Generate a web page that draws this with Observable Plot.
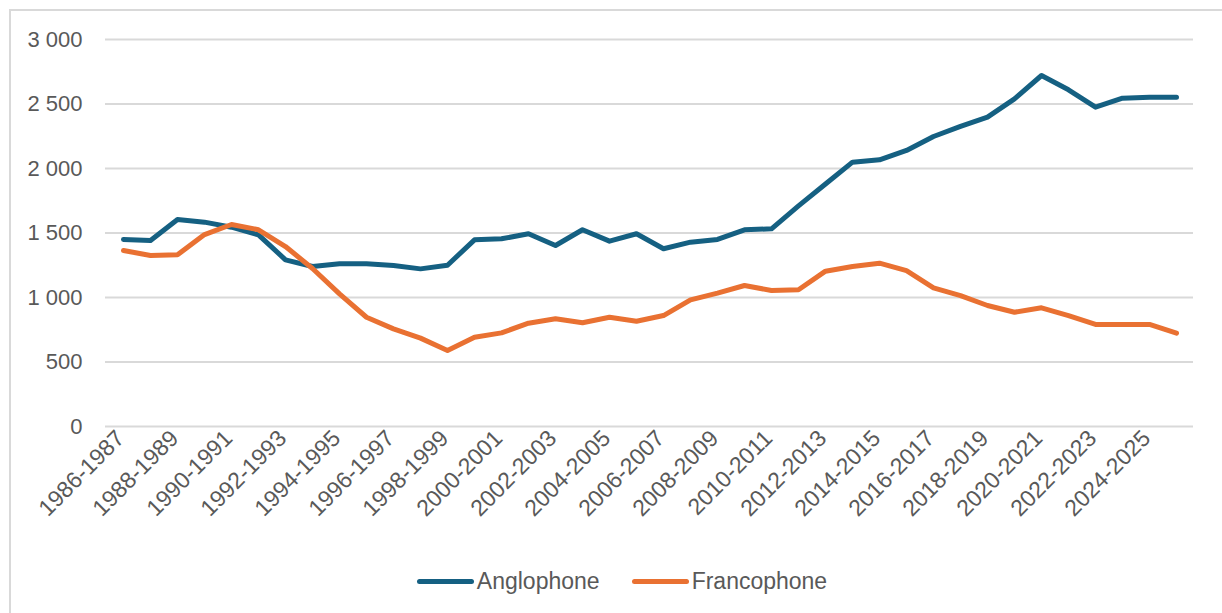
<!DOCTYPE html>
<html>
<head>
<meta charset="utf-8">
<script src="https://cdn.jsdelivr.net/npm/d3@7"></script>
<script src="https://cdn.jsdelivr.net/npm/@observablehq/plot@0.6"></script>
<style>
  html, body { margin: 0; padding: 0; background: #fff; overflow: hidden; }
  body { width: 1222px; height: 613px; position: relative; font-family: "Liberation Sans", Arial, sans-serif; }
  #frame { position: absolute; left: 9px; top: 9px; width: 1400px; height: 800px;
           border-top: 2px solid #d9d9d9; border-left: 2px solid #d9d9d9; box-sizing: border-box; }
  #chart { position: absolute; left: 0; top: 0; }
  #legend { position: absolute; left: 0; top: 568px; width: 1244px; display: flex; justify-content: center;
            align-items: center; font-size: 23px; color: #595959; }
  .item { display: flex; align-items: center; margin: 0 16px; }
  .sw { width: 57px; height: 5px; border-radius: 3px; margin-right: 3px; }
</style>
</head>
<body>
<div id="frame"></div>
<div id="chart"></div>
<div id="legend"></div>
<script>
const categories = [
  "1986-1987","1987-1988","1988-1989","1989-1990","1990-1991","1991-1992","1992-1993","1993-1994",
  "1994-1995","1995-1996","1996-1997","1997-1998","1998-1999","1999-2000","2000-2001","2001-2002",
  "2002-2003","2003-2004","2004-2005","2005-2006","2006-2007","2007-2008","2008-2009","2009-2010",
  "2010-2011","2011-2012","2012-2013","2013-2014","2014-2015","2015-2016","2016-2017","2017-2018",
  "2018-2019","2019-2020","2020-2021","2021-2022","2022-2023","2023-2024","2024-2025","2025-2026"
];
const anglophone = [
  1450,1442,1605,1584,1545,1486,1292,1240,1261,1261,1248,1222,1250,1447,1455,1494,
  1403,1525,1437,1494,1378,1429,1450,1525,1532,1710,1880,2049,2067,2140,2248,2326,
  2398,2540,2721,2610,2475,2545,2553,2553
];
const francophone = [
  1364,1326,1331,1488,1566,1525,1395,1225,1028,847,757,685,589,692,726,801,
  835,804,847,816,860,982,1034,1093,1054,1060,1204,1240,1266,1209,1075,1015,
  938,886,920,860,791,791,791,723
];
const seriesNames = ["Anglophone", "Francophone"];
const seriesColors = ["#156082", "#E97132"];
const yTicks = [0, 500, 1000, 1500, 2000, 2500, 3000];
const xTickLabels = categories.filter((d, i) => i % 2 === 0);

const rows = [
  ...categories.map((c, i) => ({year: c, value: anglophone[i], series: seriesNames[0]})),
  ...categories.map((c, i) => ({year: c, value: francophone[i], series: seriesNames[1]}))
];

const fmt = v => d3.format(",")(v).replace(/,/g, " ");

const chart = Plot.plot({
  width: 1222,
  height: 525,
  marginTop: 39,
  marginBottom: 99,
  marginLeft: 105,
  marginRight: 29,
  style: {fontFamily: "'Liberation Sans', Arial, sans-serif", fontSize: "22px", color: "#595959", background: "transparent"},
  x: {type: "point", domain: categories, padding: 0.5, align: 0.5},
  y: {domain: [0, 3000]},
  color: {domain: seriesNames, range: seriesColors},
  marks: [
    Plot.ruleY(yTicks, {stroke: "#d9d9d9", strokeWidth: 2}),
    Plot.axisY({ticks: yTicks, tickFormat: fmt, tickSize: 0, tickPadding: 23, label: null, fontSize: 22}),
    Plot.axisX({ticks: xTickLabels, tickRotate: -45, tickSize: 0, tickPadding: 8, dx: -3, label: null, fontSize: 23}),
    Plot.line(rows, {x: "year", y: "value", z: "series", stroke: "series", strokeWidth: 5,
                     strokeLinejoin: "round", strokeLinecap: "round"})
  ]
});
document.getElementById("chart").appendChild(chart);

const legend = document.getElementById("legend");
seriesNames.forEach((name, i) => {
  const item = document.createElement("div");
  item.className = "item";
  const sw = document.createElement("div");
  sw.className = "sw";
  sw.style.background = seriesColors[i];
  const label = document.createElement("span");
  label.textContent = name;
  item.appendChild(sw);
  item.appendChild(label);
  legend.appendChild(item);
});
</script>
</body>
</html>
